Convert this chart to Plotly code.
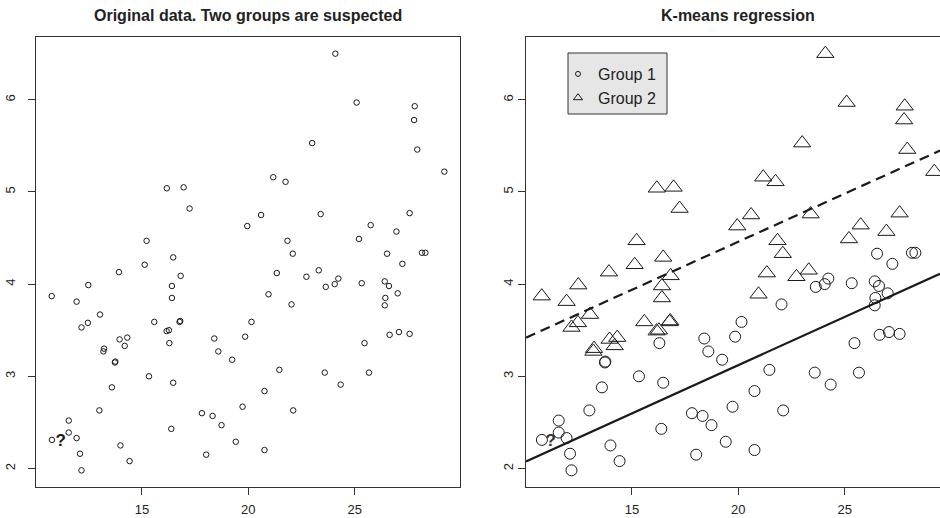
import plotly.graph_objects as go

# ---------------- data ----------------
g1_x = [26.52, 28.16, 28.32, 27.24, 24.23, 26.41, 23.64, 24.06, 25.33, 26.61,
        27.02, 26.44, 26.41, 22.03, 20.15, 19.85, 19.24, 25.46, 26.64, 27.08,
        27.58, 21.46, 23.59, 25.67, 24.34, 20.76, 19.73, 22.11, 19.41, 20.76,
        16.29, 13.73, 13.75, 18.40, 18.59, 15.33, 16.47, 13.59, 13.00, 11.56,
        11.56, 11.93, 10.77, 12.09, 12.16, 13.99, 14.42, 16.38, 17.82, 18.32,
        18.74, 18.02]
g1_y = [4.33, 4.34, 4.34, 4.22, 4.06, 4.03, 3.97, 4.00, 4.01, 3.98,
        3.90, 3.85, 3.77, 3.78, 3.59, 3.43, 3.18, 3.36, 3.45, 3.48,
        3.46, 3.07, 3.04, 3.04, 2.91, 2.84, 2.67, 2.63, 2.29, 2.20,
        3.36, 3.15, 3.16, 3.41, 3.27, 3.00, 2.93, 2.88, 2.63, 2.52,
        2.39, 2.33, 2.31, 2.16, 1.98, 2.25, 2.08, 2.43, 2.60, 2.57,
        2.47, 2.15]

g2_x = [16.17, 16.96, 17.24, 19.95, 15.22, 16.47, 15.13, 13.92, 16.82, 24.09,
        25.09, 27.82, 27.79, 23.00, 27.94, 29.21, 21.17, 21.75, 20.60, 23.40,
        27.58, 25.75, 26.96, 21.84, 25.20, 22.09, 21.34, 22.73, 23.31, 20.95,
        12.48, 16.41, 10.76, 11.93, 16.41, 13.03, 12.16, 12.46, 15.58, 16.77,
        16.80, 16.16, 16.27, 13.95, 14.31, 14.19, 13.22, 13.19]
g2_y = [5.04, 5.05, 4.82, 4.63, 4.47, 4.29, 4.21, 4.13, 4.09, 6.50,
        5.97, 5.93, 5.78, 5.53, 5.46, 5.22, 5.16, 5.11, 4.75, 4.76,
        4.77, 4.64, 4.57, 4.47, 4.49, 4.33, 4.12, 4.08, 4.15, 3.89,
        3.99, 3.98, 3.87, 3.81, 3.85, 3.67, 3.53, 3.58, 3.59, 3.59,
        3.60, 3.49, 3.50, 3.40, 3.42, 3.33, 3.30, 3.27]

# regression lines (intercept, slope) for the two groups
line_intercept = [1.027, 2.374]
line_slope = [0.1047, 0.1043]

# unknown point marked "?"
q_x = [11.18]
q_y = [2.29]

x_ticks = [15, 20, 25]
y_ticks = [2, 3, 4, 5, 6]
titles = ["Original data. Two groups are suspected", "K-means regression"]
group_names = ["Group 1", "Group 2"]

# ---------------- layout helpers ----------------
W, H = 940, 518
all_x = g1_x + g2_x
all_y = g1_y + g2_y
dx = (max(all_x) - min(all_x)) * 0.04
dy = (max(all_y) - min(all_y)) * 0.04
xlo, xhi = min(all_x) - dx, max(all_x) + dx
ylo, yhi = min(all_y) - dy, max(all_y) + dy

L_left, L_right = 36, 460
R_left = 526
R_right_full = R_left + (L_right - L_left)
P_top, P_bot = 37, 487
xhi_right = xlo + (xhi - xlo) * (W - R_left) / (R_right_full - R_left)

INK = "#1a1a1a"
FONT = "Liberation Sans, Arial, Helvetica, sans-serif"

fig = go.Figure()

# left panel: all points
fig.add_trace(go.Scatter(
    x=all_x, y=all_y, mode="markers", xaxis="x", yaxis="y", showlegend=False,
    marker=dict(symbol="circle-open", size=5.5, color=INK, line=dict(width=1, color=INK)),
))
fig.add_trace(go.Scatter(
    x=q_x, y=q_y, mode="text", text=["<b>?</b>"], xaxis="x", yaxis="y", showlegend=False,
    textfont=dict(size=17, color=INK, family=FONT),
))

# right panel
fig.add_trace(go.Scatter(
    x=q_x, y=q_y, mode="text", text=["<b>?</b>"], xaxis="x2", yaxis="y2", showlegend=False,
    textfont=dict(size=17, color="#333333", family=FONT),
))
fig.add_trace(go.Scatter(
    x=g1_x, y=g1_y, mode="markers", xaxis="x2", yaxis="y2", showlegend=False,
    marker=dict(symbol="circle-open", size=11, color=INK, line=dict(width=1, color=INK)),
))
fig.add_trace(go.Scatter(
    x=g2_x, y=g2_y, mode="markers", xaxis="x2", yaxis="y2", showlegend=False,
    marker=dict(symbol="triangle-up-open", size=15, color=INK, line=dict(width=1, color=INK)),
))
for a, b, dash in zip(line_intercept, line_slope, ["solid", "10px,6px"]):
    xs = [xlo, xhi_right]
    fig.add_trace(go.Scatter(
        x=xs, y=[a + b * v for v in xs], mode="lines", xaxis="x2", yaxis="y2",
        showlegend=False, line=dict(color=INK, width=2.2, dash=dash),
    ))

# legend entries (small symbols as in the reference)
for name, sym, sz in zip(group_names, ["circle-open", "triangle-up-open"], [5, 8]):
    fig.add_trace(go.Scatter(
        x=[None], y=[None], mode="markers", xaxis="x2", yaxis="y2", name=name,
        marker=dict(symbol=sym, size=sz, color=INK, line=dict(width=1, color=INK)),
    ))

axis_common = dict(
    showgrid=False, zeroline=False, showline=True, linecolor="#333333", linewidth=1,
    ticks="outside", ticklen=7, tickwidth=1, tickcolor="#333333", automargin=False,
    tickfont=dict(size=13, color="#222222", family=FONT),
)

fig.update_layout(
    width=W, height=H,
    margin=dict(l=0, r=0, t=0, b=0),
    paper_bgcolor="white", plot_bgcolor="white",
    font=dict(family=FONT, color="#222222"),
    xaxis=dict(domain=[L_left / W, L_right / W], range=[xlo, xhi], anchor="y",
               tickvals=x_ticks, mirror=True, ticklabelstandoff=3, **axis_common),
    yaxis=dict(domain=[1 - P_bot / H, 1 - P_top / H], range=[ylo, yhi], anchor="x",
               tickvals=y_ticks, tickangle=-90, mirror=True, ticklabelstandoff=8,
               **axis_common),
    xaxis2=dict(domain=[R_left / W, 1.0], range=[xlo, xhi_right], anchor="y2",
                tickvals=x_ticks, mirror=True, ticklabelstandoff=3, **axis_common),
    yaxis2=dict(domain=[1 - P_bot / H, 1 - P_top / H], range=[ylo, yhi], anchor="x2",
                tickvals=y_ticks, tickangle=-90, mirror=False, **axis_common),
    showlegend=True,
    legend=dict(x=558 / W, y=1 - 57 / H, xanchor="left", yanchor="top",
                bgcolor="rgba(0,0,0,0)", borderwidth=0,
                font=dict(size=16, color="#222222", family=FONT),
                itemwidth=30, tracegroupgap=0),
    shapes=[dict(type="rect", xref="paper", yref="paper",
                 x0=568 / W, x1=667 / W, y0=1 - 114 / H, y1=1 - 53 / H,
                 fillcolor="#e6e6e6", line=dict(color="#333333", width=1), layer="below")],
    annotations=[
        dict(text="<b>%s</b>" % titles[0], x=(L_left + L_right) / 2 / W, y=1 - 15 / H,
             xref="paper", yref="paper", showarrow=False, xanchor="center", yanchor="middle",
             font=dict(size=16, color="#222222", family=FONT)),
        dict(text="<b>%s</b>" % titles[1], x=(R_left + R_right_full) / 2 / W, y=1 - 15 / H,
             xref="paper", yref="paper", showarrow=False, xanchor="center", yanchor="middle",
             font=dict(size=16, color="#222222", family=FONT)),
    ],
)

fig.write_html("out.html")
